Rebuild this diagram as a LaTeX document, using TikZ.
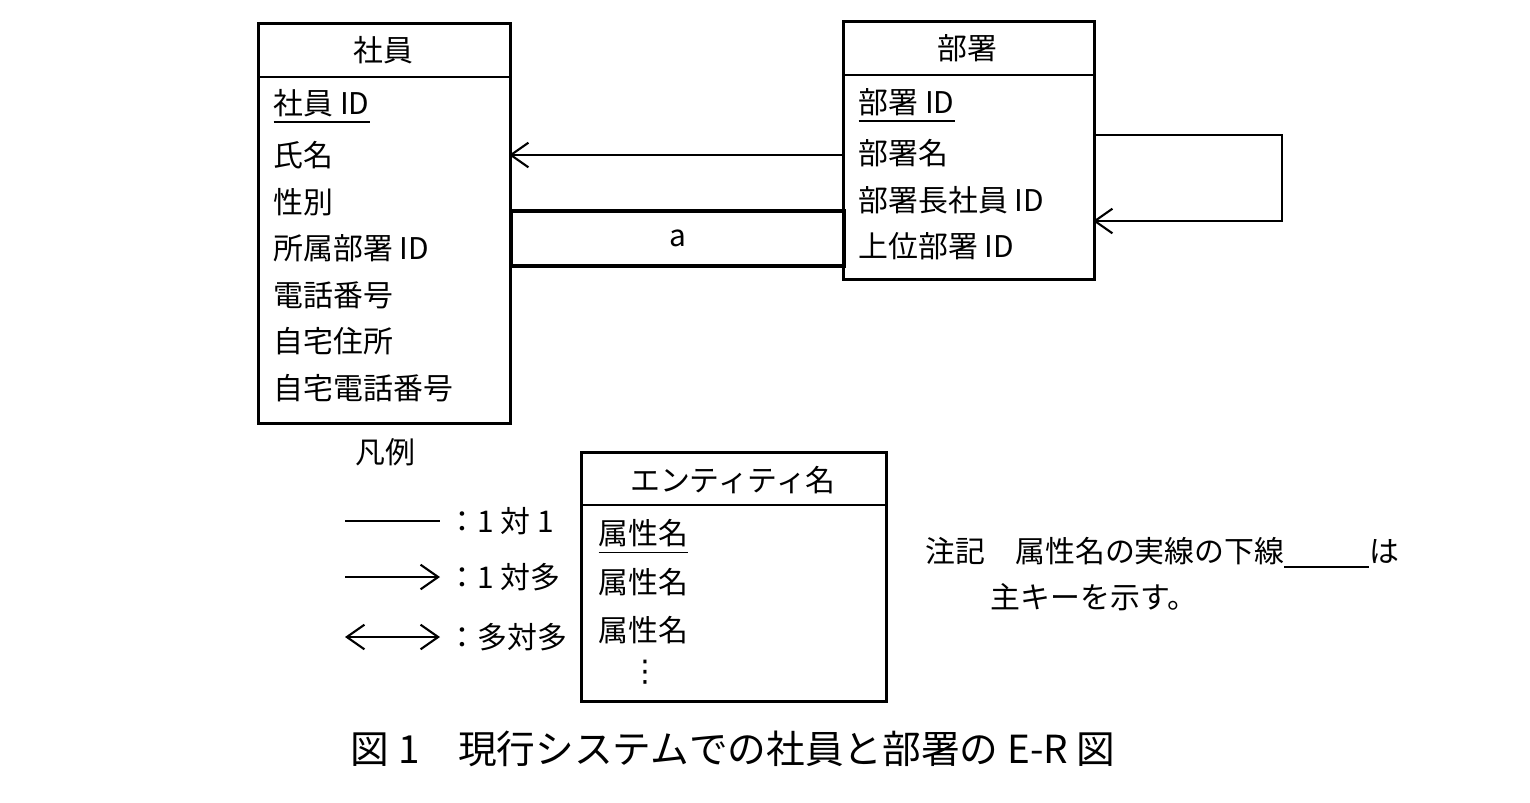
\documentclass[tikz,border=0pt]{standalone}
\usepackage{fontspec}
\setmainfont{Noto Sans CJK JP}
\newfontfamily\symfont{DejaVu Sans}
\usetikzlibrary{arrows.meta,positioning}
\tikzset{
  attr/.style={anchor=west, font=\fontsize{8.5}{10}\selectfont, inner sep=0pt},
  ent/.style={draw, thick, anchor=north west, inner sep=0pt},
  rel/.style={-{Straight Barb[length=5pt,width=7pt]}, semithick},
}
\begin{document}
\begin{tikzpicture}[x=0.01cm, y=-0.01cm]
    \useasboundingbox (0,0) rectangle (1530,802);
    % 社員
    \node[ent, minimum width=2.52cm, minimum height=4cm] (emp) at (257,22) {};
    \draw[thick] (257,77) -- (509,77);
    \node[attr, anchor=center] (empname) at (383,50) {社員};
    \node[attr] (e1) at (273,107) {\underline{社員 ID}};
    \node[attr] (e2) at (273,155) {氏名};
    \node[attr] (e3) at (273,202) {性別};
    \node[attr] (e4) at (273,248) {所属部署 ID};
    \node[attr] (e5) at (273,295) {電話番号};
    \node[attr] (e6) at (273,341) {自宅住所};
    \node[attr] (e7) at (273,388) {自宅電話番号};

    % 部署
    \node[ent, minimum width=2.51cm, minimum height=2.58cm] (dept) at (842,20) {};
    \draw[thick] (842,75) -- (1093,75);
    \node[attr, anchor=center] (deptname) at (967,48) {部署};
    \node[attr] (d1) at (858,106) {\underline{部署 ID}};
    \node[attr] (d2) at (858,153) {部署名};
    \node[attr] (d3) at (858,200) {部署長社員 ID};
    \node[attr] (d4) at (858,246) {上位部署 ID};

    % 関連
    \coordinate (pa) at (842,155);
    \coordinate (pb) at (509,155);
    \draw[rel] (pa) -- (pb);
    \node[draw, very thick, minimum width=3.33cm, minimum height=0.55cm, anchor=north west,
          font=\fontsize{8.5}{10}\selectfont] (a) at (509,209) {a};
    \coordinate (s1) at (1093,135);
    \coordinate (s2) at (1093,221);
    \draw[rel] (s1) -- (1282,135) -- (1282,221) -- (s2);

    % 凡例
    \node[attr, anchor=center] (leg) at (385,452) {凡例};
    \coordinate (l1a) at (345,521); \coordinate (l1b) at (440,521);
    \coordinate (l2a) at (345,577); \coordinate (l2b) at (440,577);
    \coordinate (l3a) at (345,637); \coordinate (l3b) at (440,637);
    \draw[semithick] (l1a) -- (l1b);
    \draw[rel] (l2a) -- (l2b);
    \draw[rel, {Straight Barb[length=5pt,width=7pt]}-{Straight Barb[length=5pt,width=7pt]}] (l3a) -- (l3b);
    \node[attr] (t1) at (447,521) {：1 対 1};
    \node[attr] (t2) at (447,577) {：1 対多};
    \node[attr] (t3) at (447,637) {：多対多};

    \node[ent, minimum width=3.05cm, minimum height=2.49cm] (sample) at (580,451) {};
    \draw[thick] (580,505) -- (885,505);
    \node[attr, anchor=center] (sname) at (733,480) {エンティティ名};
    \node[attr] (s1a) at (598,537) {\underline{属性名}};
    \node[attr] (s2a) at (598,582) {属性名};
    \node[attr] (s3a) at (598,630) {属性名};
    \node[attr, anchor=center, font=\symfont\fontsize{8.5}{10}\selectfont] (dots) at (645,672) {⋮};

    % 注記
    \node[attr] (note1) at (925,553) {注記\quad 属性名の実線の下線\underline{\hspace{0.85cm}}は};
    \node[attr] (note2) at (990,597) {主キーを示す。};

    \node[font=\fontsize{11}{13}\selectfont] (cap) at (733,749) {図 1\quad 現行システムでの社員と部署の E-R 図};
\end{tikzpicture}
\end{document}
